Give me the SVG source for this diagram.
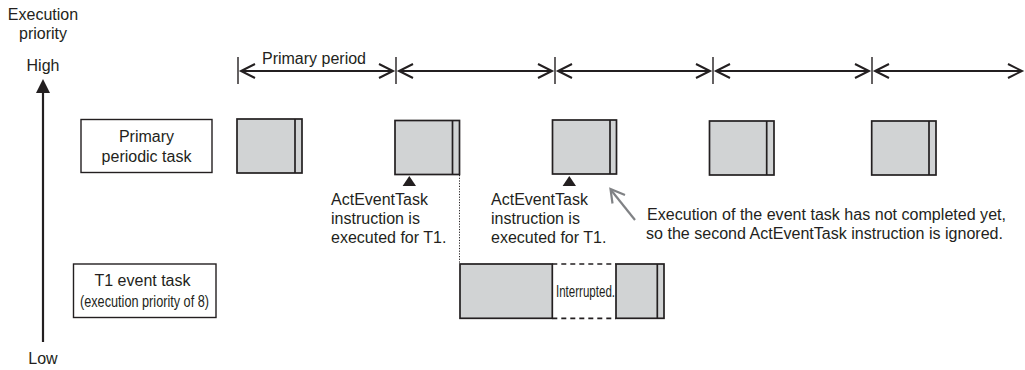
<svg xmlns="http://www.w3.org/2000/svg" width="1025" height="370" viewBox="0 0 1025 370">
<style>
text{font-family:"Liberation Sans",Arial,sans-serif;fill:#231f20;font-size:16px}
.c{text-anchor:middle}
.blk{fill:#d1d3d4;stroke:#231f20;stroke-width:1.7}
.box{fill:#fff;stroke:#231f20;stroke-width:1.4}
.tick{stroke:#231f20;stroke-width:1.4}
.dim{stroke:#231f20;stroke-width:2;fill:none}
.sep{stroke:#231f20;stroke-width:1.7}
</style>

<g id="axis">
<text x="43" y="20" class="c">Execution</text>
<text x="43" y="39" class="c">priority</text>
<text x="43" y="71" class="c">High</text>
<line x1="43" y1="342" x2="43" y2="92" stroke="#231f20" stroke-width="2.2"/>
<path d="M43,79 L50,93 L36,93 Z" fill="#231f20"/>
<text x="43" y="364" class="c">Low</text>
</g>

<g id="periods">
<line class="tick" x1="238" y1="57" x2="238" y2="84"/>
<line class="tick" x1="396" y1="57" x2="396" y2="84"/>
<line class="tick" x1="555" y1="57" x2="555" y2="84"/>
<line class="tick" x1="713" y1="57" x2="713" y2="84"/>
<line class="tick" x1="872" y1="57" x2="872" y2="84"/>
<g class="dim">
<line x1="241" y1="71" x2="393" y2="71"/>
<path d="M255,64 L241,71 L255,78 M379,64 L393,71 L379,78"/>
<line x1="399" y1="71" x2="552" y2="71"/>
<path d="M413,64 L399,71 L413,78 M538,64 L552,71 L538,78"/>
<line x1="558" y1="71" x2="710" y2="71"/>
<path d="M572,64 L558,71 L572,78 M696,64 L710,71 L696,78"/>
<line x1="716" y1="71" x2="869" y2="71"/>
<path d="M730,64 L716,71 L730,78 M855,64 L869,71 L855,78"/>
<line x1="875" y1="71" x2="1022" y2="71"/>
<path d="M889,64 L875,71 L889,78 M1008,64 L1022,71 L1008,78"/>
</g>
<text x="262" y="64" textLength="104" lengthAdjust="spacingAndGlyphs">Primary period</text>
</g>

<g id="primary-label">
<rect class="box" x="81" y="119.5" width="131" height="53"/>
<text x="146.5" y="141.5" class="c">Primary</text>
<text x="146.5" y="162" class="c">periodic task</text>
</g>

<g id="primary-blocks">
<rect class="blk" x="237" y="119" width="65" height="54"/>
<line class="sep" x1="295" y1="119" x2="295" y2="173"/>
<rect class="blk" x="395" y="120.5" width="64.5" height="54"/>
<line class="sep" x1="452.5" y1="120.5" x2="452.5" y2="174.5"/>
<rect class="blk" x="552.5" y="120" width="64" height="54"/>
<line class="sep" x1="610" y1="120" x2="610" y2="174"/>
<rect class="blk" x="709.5" y="121" width="64.5" height="54"/>
<line class="sep" x1="766.7" y1="121" x2="766.7" y2="175"/>
<rect class="blk" x="871.7" y="121" width="64.3" height="54"/>
<line class="sep" x1="929" y1="121" x2="929" y2="175"/>
</g>

<g id="trigger1">
<path d="M409.3,176 L416,186 L402.6,186 Z" fill="#231f20"/>
<text x="331" y="204.5" textLength="97" lengthAdjust="spacingAndGlyphs">ActEventTask</text>
<text x="331" y="224">instruction is</text>
<text x="331" y="243">executed for T1.</text>
</g>

<g id="trigger2">
<path d="M569.3,176 L576,186 L562.6,186 Z" fill="#231f20"/>
<text x="491" y="204.5" textLength="97" lengthAdjust="spacingAndGlyphs">ActEventTask</text>
<text x="491" y="224">instruction is</text>
<text x="491" y="243">executed for T1.</text>
</g>

<g id="note">
<line x1="635" y1="220" x2="611" y2="190" stroke="#808285" stroke-width="2.2"/>
<path d="M625,195 L610.5,189 L612.5,203.5" fill="none" stroke="#808285" stroke-width="2.2"/>
<text x="647" y="219.5" textLength="359" lengthAdjust="spacingAndGlyphs">Execution of the event task has not completed yet,</text>
<text x="646" y="238.5" textLength="357" lengthAdjust="spacingAndGlyphs">so the second ActEventTask instruction is ignored.</text>
</g>

<g id="connectors">
<line x1="459.5" y1="175" x2="459.5" y2="264" stroke="#231f20" stroke-width="1" stroke-dasharray="1.2,1.5"/>
</g>

<g id="event-label">
<rect class="box" x="73.5" y="264" width="142.5" height="53.5"/>
<text x="142.5" y="286" class="c">T1 event task</text>
<text x="80" y="307" font-size="14.5" textLength="129" lengthAdjust="spacingAndGlyphs">(execution priority of 8)</text>
</g>

<g id="event-blocks">
<rect class="blk" x="460" y="264" width="92.3" height="54.3"/>
<path d="M552.3,264 L616,264 M552.3,318.3 L616,318.3" stroke="#231f20" stroke-width="1.7" stroke-dasharray="5,4"/>
<text x="556" y="297" font-size="15" textLength="59" lengthAdjust="spacingAndGlyphs">Interrupted.</text>
<rect class="blk" x="616" y="264" width="48" height="54.3"/>
<line class="sep" x1="657.3" y1="264" x2="657.3" y2="318.3"/>
</g>
</svg>
